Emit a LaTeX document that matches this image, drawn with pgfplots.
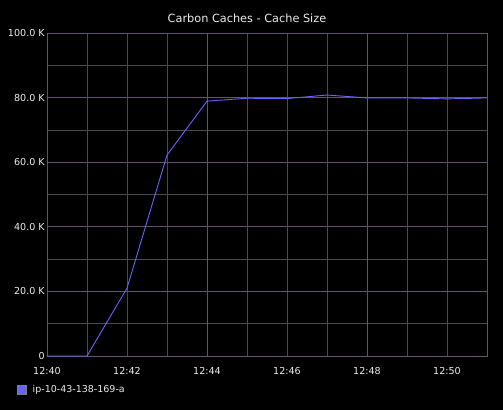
\documentclass[border=0pt]{standalone}
\usepackage{fontspec}
\setmainfont{DejaVu Sans}
\usepackage{pgfplots}
\pgfplotsset{compat=1.18}
\definecolor{lineblue}{RGB}{100,100,250}
\definecolor{majgrid}{RGB}{105,80,110}
\definecolor{mingrid}{RGB}{75,72,78}
\definecolor{txt}{RGB}{235,235,235}
\begin{document}
\begin{tikzpicture}
\fill[black] (0pt,0pt) rectangle (503pt,410pt);
\useasboundingbox (0pt,0pt) rectangle (503pt,410pt);
\node[txt,font=\fontsize{11.3}{13}\selectfont] at (247pt,391.7pt) {Carbon Caches - Cache Size};
\begin{axis}[
    at={(47pt,54pt)}, anchor=south west,
    scale only axis, width=440pt, height=323pt,
    xmin=0, xmax=11, ymin=0, ymax=100000,
    xtick={0,2,4,6,8,10},
    xticklabels={12:40,12:42,12:44,12:46,12:48,12:50},
    minor xtick={1,3,5,7,9,11},
    ytick={0,20000,40000,60000,80000,100000},
    yticklabels={0,20.0 K,40.0 K,60.0 K,80.0 K,100.0 K},
    minor ytick={10000,30000,50000,70000,90000},
    scaled y ticks=false,
    major tick length=0pt, minor tick length=0pt,
    xmajorgrids, xminorgrids, ymajorgrids, yminorgrids,
    major x grid style={mingrid, line width=0.7pt},
    minor grid style={mingrid, line width=0.7pt},
    major y grid style={majgrid, line width=0.7pt},
    extra x ticks={4,8}, extra x tick labels={},
    extra x tick style={major x grid style={majgrid, line width=0.8pt}},
    axis line style={majgrid, line width=0.8pt},
    tick label style={txt, font=\fontsize{9.6}{11}\selectfont, inner sep=0pt},
    xticklabel style={yshift=-11.5pt},
    yticklabel style={xshift=-2pt},
    /pgf/number format/assume math mode=true,
    legend style={at={(rel axis cs:-0.0682,-0.1037)}, anchor=west, draw=none, fill=none,
        text=txt, font=\fontsize{9.5}{11}\selectfont, inner sep=0pt,
        nodes={inner sep=0pt},
        /tikz/every odd column/.append style={column sep=6pt}},
    legend cell align=left,
    legend image code/.code={\draw[fill=lineblue, draw=gray, line width=0.5pt] (0pt,-4.5pt) rectangle (9pt,4.5pt);},
]
\addplot[lineblue, line width=0.9pt, mark=none] coordinates {
    (0,0) (1,0) (2,21000) (3,62200) (4,78900) (5,79800) (6,79700)
    (7,80800) (8,79900) (9,79900) (10,79600) (11,79900)};
\addlegendentry{ip-10-43-138-169-a}
\end{axis}
\end{tikzpicture}
\end{document}
